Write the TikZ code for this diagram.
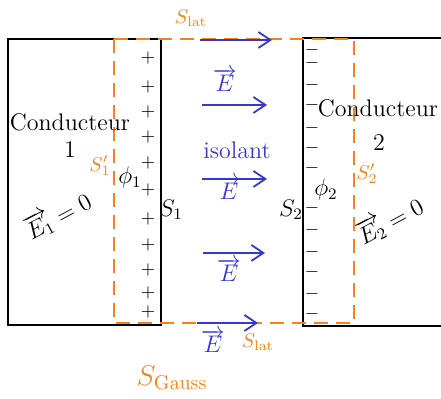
\documentclass[tikz,border=0pt]{standalone}
\usetikzlibrary{arrows.meta}
\definecolor{gaussorange}{RGB}{250,130,20}
\definecolor{fieldblue}{RGB}{55,55,205}

\begin{document}
\begin{tikzpicture}[x=0.5pt,y=-0.5pt,>={Straight Barb[length=6pt,width=8pt]},
  every node/.style={inner sep=0.5pt},
  wall/.style={draw=black,line width=1.1pt},
  gauss/.style={draw=gaussorange,line width=1.1pt,dash pattern=on 7pt off 4pt},
  field/.style={->,draw=fieldblue,line width=0.9pt},
  sign/.style={inner sep=0pt,font=\small},
  lbl/.style={font=\large},
  olbl/.style={text=gaussorange},
  blbl/.style={text=fieldblue,font=\large}]
  \useasboundingbox (0,0) rectangle (441,399);
  \draw[wall] (8,39) rectangle (161,325);
  \draw[wall] (441,38) -- (303,38) -- (303,326) -- (441,326);
  \draw[gauss] (114,39) rectangle (354,323);
  \foreach \y/\xa/\xb [count=\i] in {40/200/272,105/202/267,179/202/267,253/203/265,323/197/258}{
    \coordinate (fa\i) at (\xa,\y);
    \coordinate (fb\i) at (\xb,\y);
    \draw[field] (fa\i) -- (fb\i);
  }
  \foreach \y [count=\i] in {58,87,112,137,163,190,219,245,270,293,312}
    \node[sign] (p\i) at (148,\y) {$+$};
  \foreach \y [count=\i] in {50,63,85,105,128,148,168,208,230,252,272,294,314}
    \node[sign] (m\i) at (312,\y) {$-$};
  \node[lbl] (cond1) at (70,122) {Conducteur};
  \node[lbl] (num1) at (70,150) {1};
  \node[lbl] (cond2) at (378,108) {Conducteur};
  \node[lbl] (num2) at (379,143) {2};
  \node[blbl] (isol) at (237,150) {isolant};
  \node[blbl] (e1) at (225,80) {$\overrightarrow{E}$};
  \node[blbl] (e2) at (229,188) {$\overrightarrow{E}$};
  \node[blbl] (e3) at (229,270) {$\overrightarrow{E}$};
  \node[blbl] (e4) at (213,341) {$\overrightarrow{E}$};
  \node[olbl] (slattop) at (191,18) {$S_{\mathrm{lat}}$};
  \node[olbl] (slatbot) at (258,342) {$S_{\mathrm{lat}}$};
  \node[olbl,font=\Large] (sgauss) at (172,378) {$S_{\mathrm{Gauss}}$};
  \node[olbl] (sp1) at (100,166) {$S'_1$};
  \node[olbl] (sp2) at (367,174) {$S'_2$};
  \node[lbl] (s1) at (171,210) {$S_1$};
  \node[lbl] (s2) at (291,210) {$S_2$};
  \node[lbl] (phi1) at (130,178) {$\phi_1$};
  \node[lbl] (phi2) at (326,190) {$\phi_2$};
  \node[lbl,rotate=28] (ezero1) at (58,215) {$\overrightarrow{E_1}=0$};
  \node[lbl,rotate=28] (ezero2) at (390,220) {$\overrightarrow{E_2}=0$};
\end{tikzpicture}
\end{document}
